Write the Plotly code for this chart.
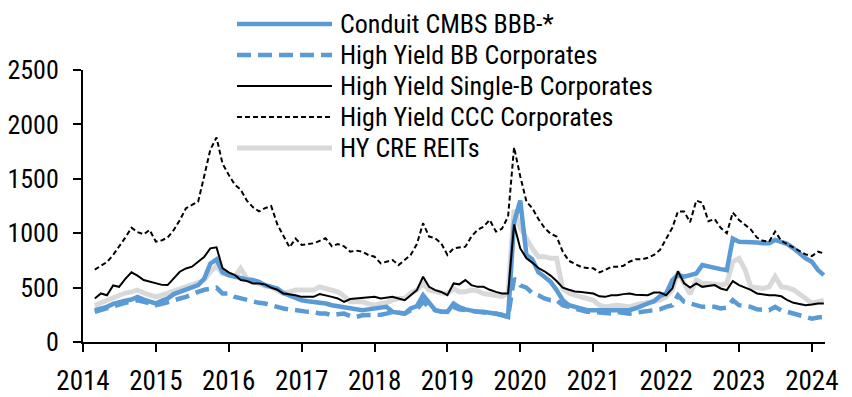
import pandas as pd
import plotly.graph_objects as go

# monthly observation dates (Mar 2014 .. Mar 2024)
dates = pd.date_range("2014-03-01", "2024-03-01", freq="MS")

series_names = [
    "Conduit CMBS BBB-*",
    "High Yield BB Corporates",
    "High Yield Single-B Corporates",
    "High Yield CCC Corporates",
    "HY CRE REITs",
]

conduit_cmbs_bbb = [
    292, 305, 323, 350, 369, 380, 390, 415, 390, 369,
    354, 380, 400, 440, 461, 490, 507, 523, 584, 720, 760, 640,
    615, 600, 584, 575, 569, 553, 523, 510, 492, 450, 430, 415,
    384, 375, 369, 354, 354, 338, 330, 323, 308, 308, 292, 300,
    308, 315, 323, 277, 270, 261, 308, 330, 430, 354, 292, 280,
    277, 354, 320, 300, 285, 277, 277, 270, 261, 250, 231, 1100,
    1300, 800, 760, 640, 600, 553, 477, 384, 338, 320, 300, 292,
    292, 292, 292, 292, 292, 292, 292, 310, 338, 354, 375, 420,
    446, 569, 615, 600, 615, 630, 707, 692, 676, 670, 661, 950,
    922, 922, 922, 915, 907, 907, 938, 920, 900, 861, 815, 769,
    738, 661, 615,
]

hy_bb = [
    277, 295, 308, 330, 338, 360, 369, 384, 370, 354,
    338, 350, 369, 384, 400, 415, 440, 461, 480, 492, 500, 446,
    446, 415, 400, 384, 369, 360, 354, 338, 315, 308, 300, 292,
    277, 277, 277, 261, 261, 246, 255, 261, 240, 231, 246, 246,
    246, 250, 261, 277, 270, 261, 292, 300, 369, 323, 292, 277,
    277, 323, 300, 292, 280, 277, 270, 265, 261, 250, 231, 584,
    520, 500, 450, 430, 400, 384, 384, 338, 323, 305, 292, 277,
    277, 268, 261, 261, 277, 270, 261, 270, 277, 280, 290, 300,
    323, 338, 430, 369, 354, 340, 323, 323, 323, 308, 315, 384,
    338, 330, 323, 300, 292, 292, 323, 290, 277, 261, 246, 231,
    215, 225, 231,
]

hy_single_b = [
    400, 446, 430, 520, 507, 580, 640, 610, 570, 553,
    538, 525, 523, 584, 646, 676, 692, 738, 784, 861, 870, 680,
    640, 615, 569, 560, 538, 538, 530, 500, 480, 446, 440, 430,
    415, 415, 415, 440, 430, 415, 400, 369, 395, 400, 400, 410,
    415, 400, 405, 415, 400, 384, 430, 477, 600, 507, 477, 460,
    430, 538, 530, 569, 523, 507, 507, 480, 461, 446, 446, 1080,
    860, 770, 730, 680, 650, 610, 560, 500, 480, 465, 460, 450,
    446, 420, 415, 430, 430, 440, 446, 435, 430, 430, 455, 455,
    430, 492, 650, 540, 500, 538, 507, 515, 523, 492, 477, 560,
    523, 500, 480, 446, 435, 430, 430, 420, 384, 360, 350, 338,
    345, 354, 354,
]

hy_ccc = [
    665, 700, 735, 800, 876, 960, 1050, 1010, 990, 1030,
    922, 935, 960, 1030, 1120, 1230, 1260, 1290, 1530, 1768, 1880, 1640,
    1537, 1445, 1400, 1300, 1240, 1200, 1230, 1250, 1080, 980, 870, 950,
    892, 900, 907, 930, 953, 880, 900, 880, 830, 840, 830, 800,
    784, 723, 740, 753, 707, 753, 800, 900, 1092, 969, 953, 907,
    800, 861, 870, 876, 969, 1030, 1060, 1122, 1015, 1040, 1153, 1790,
    1522, 1290, 1230, 1130, 1050, 995, 969, 830, 745, 715, 690, 680,
    677, 640, 660, 692, 692, 700, 738, 760, 760, 775, 800, 846,
    950, 1050, 1200, 1200, 1100, 1300, 1280, 1110, 1130, 1050, 1000, 1190,
    1122, 1080, 1035, 960, 930, 922, 1015, 930, 900, 870, 835, 805,
    790, 830, 815,
]

hy_cre_reits = [
    338, 360, 384, 410, 430, 450, 461, 477, 450, 430,
    415, 430, 446, 470, 492, 507, 523, 545, 569, 646, 700, 630,
    615, 600, 676, 584, 560, 538, 515, 507, 470, 446, 460, 477,
    477, 477, 477, 507, 492, 475, 461, 420, 369, 369, 369, 350,
    338, 354, 360, 384, 400, 400, 450, 477, 538, 477, 461, 450,
    446, 492, 460, 461, 477, 470, 446, 440, 430, 420, 446, 1215,
    1050, 940, 860, 784, 784, 769, 769, 490, 450, 430, 415, 395,
    384, 338, 323, 330, 338, 330, 323, 340, 354, 369, 375, 384,
    415, 477, 646, 540, 440, 569, 538, 538, 530, 523, 538, 738,
    769, 661, 507, 495, 492, 507, 600, 507, 500, 480, 446, 400,
    354, 369, 384,
]

y_ticks = [0, 500, 1000, 1500, 2000, 2500]

for s in (conduit_cmbs_bbb, hy_bb, hy_single_b, hy_ccc, hy_cre_reits):
    assert len(s) == len(dates)

BLUE = "#5B9BD5"
GRAY = "#D9D9D9"
FONT = "Roboto Condensed, Liberation Sans Narrow, Arial Narrow, sans-serif"
FS = 27
LEG_FS = 26

styles = {
    "Conduit CMBS BBB-*": dict(color=BLUE, width=4.5, dash="solid"),
    "High Yield BB Corporates": dict(color=BLUE, width=4.5, dash="14px,7px"),
    "High Yield Single-B Corporates": dict(color="black", width=2, dash="solid"),
    "High Yield CCC Corporates": dict(color="black", width=2, dash="5px,3px"),
    "HY CRE REITs": dict(color=GRAY, width=5, dash="solid"),
}
values = {
    "Conduit CMBS BBB-*": conduit_cmbs_bbb,
    "High Yield BB Corporates": hy_bb,
    "High Yield Single-B Corporates": hy_single_b,
    "High Yield CCC Corporates": hy_ccc,
    "HY CRE REITs": hy_cre_reits,
}

fig = go.Figure()
draw_order = ["HY CRE REITs", "Conduit CMBS BBB-*", "High Yield BB Corporates",
              "High Yield Single-B Corporates", "High Yield CCC Corporates"]
for name in draw_order:
    fig.add_trace(go.Scatter(x=dates, y=values[name], mode="lines", name=name,
                             line=styles[name], showlegend=False))

# page has an 8px body margin: lay the figure out so the plot lands where the original's does
OFF = 8
W, H = 852 - OFF, 397 - OFF
ml, mt = 83 - OFF, 70 - OFF
mr = W - (825 - OFF)
mb = H - (342 - OFF)
pw, ph = W - ml - mr, H - mt - mb


def px_x(px):
    return (px - OFF - ml) / pw


def px_y(py):
    return (H - mb - (py - OFF)) / ph


# custom legend (long line samples like the original)
row_py = [24, 55, 86, 117, 148]
shapes, annots = [], []
for name, py in zip(series_names, row_py):
    st = styles[name]
    shapes.append(dict(type="line", xref="paper", yref="paper",
                       x0=px_x(237), x1=px_x(332), y0=px_y(py), y1=px_y(py),
                       line=dict(color=st["color"], width=st["width"], dash=st["dash"])))
    annots.append(dict(xref="paper", yref="paper", x=px_x(338), y=px_y(py),
                       xanchor="left", yanchor="middle", text=name, showarrow=False,
                       font=dict(family=FONT, size=LEG_FS, color="black")))

fig.update_layout(
    width=W, height=H,
    margin=dict(l=ml, r=mr, t=mt, b=mb),
    plot_bgcolor="white", paper_bgcolor="white",
    font=dict(family=FONT, size=FS, color="black"),
    shapes=shapes, annotations=annots,
    showlegend=False,
)
fig.update_xaxes(
    type="date", range=["2014-01-01", "2024-03-07"],
    tick0="2014-01-01", dtick="M12", tickformat="%Y",
    showgrid=False, zeroline=False, automargin=False,
    showline=True, linecolor="black", linewidth=2,
    ticks="outside", ticklen=8, tickwidth=2, tickcolor="black",
    ticklabelstandoff=6,
)
fig.update_yaxes(
    range=[0, 2500], tickvals=y_ticks,
    showgrid=False, zeroline=False, automargin=False,
    showline=True, linecolor="black", linewidth=2,
    ticks="outside", ticklen=8, tickwidth=2, tickcolor="black",
    ticklabelstandoff=9, tickfont=dict(family=FONT, size=26, color="black"),
)

fig.write_html("out.html")
